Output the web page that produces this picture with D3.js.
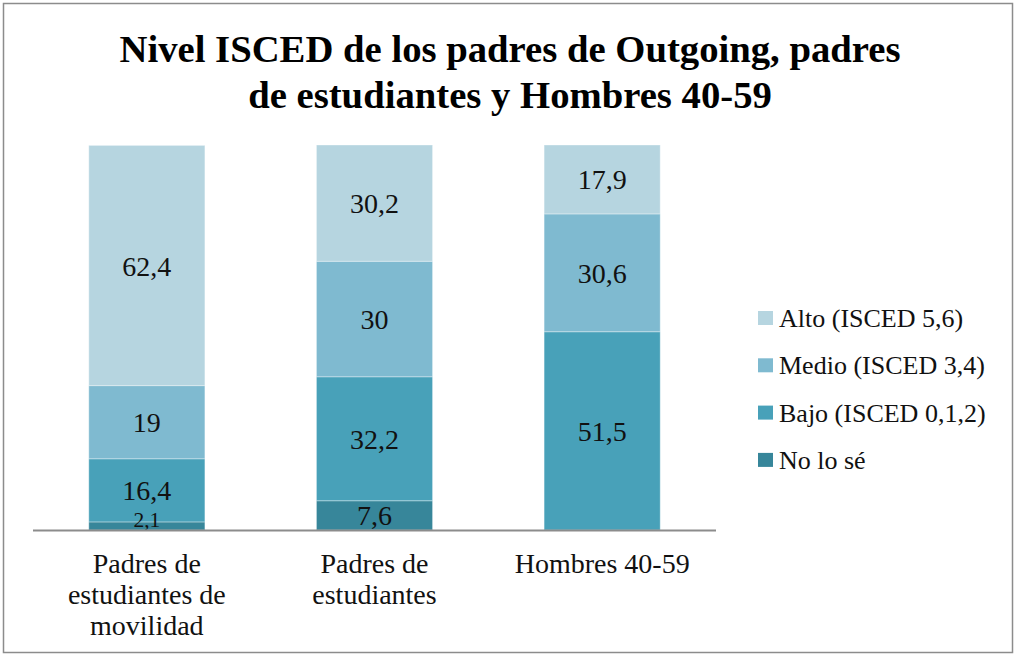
<!DOCTYPE html>
<html><head><meta charset="utf-8">
<script src="https://cdn.jsdelivr.net/npm/d3@7"></script>
<style>body{margin:0;background:#fff}svg{display:block}</style>
</head><body>
<svg id="c" width="1016" height="656"></svg>
<script>
const categories = [["Padres de","estudiantes de","movilidad"],["Padres de","estudiantes"],["Hombres 40-59"]];
const categoryKeys = ["Padres de estudiantes de movilidad","Padres de estudiantes","Hombres 40-59"];
const seriesNames = ["No lo sé","Bajo (ISCED 0,1,2)","Medio (ISCED 3,4)","Alto (ISCED 5,6)"];
const noLoSe = [2.1, 7.6, 0];
const bajo = [16.4, 32.2, 51.5];
const medio = [19, 30, 30.6];
const alto = [62.4, 30.2, 17.9];
const colors = ["#37869a","#48a1b9","#7fbad0","#b6d5e0"];

const svg = d3.select("#c");
const font = "'Liberation Serif', 'DejaVu Serif', serif";
svg.append("rect").attr("x",3.5).attr("y",3.5).attr("width",1009).attr("height",649)
  .attr("fill","#fff").attr("stroke","#8c8c8c").attr("stroke-width",1.5);

svg.append("text").attr("x",510).attr("y",62).attr("text-anchor","middle")
  .attr("font-family",font).attr("font-weight","bold").attr("font-size",38.7).text("Nivel ISCED de los padres de Outgoing, padres");
svg.append("text").attr("x",510).attr("y",108).attr("text-anchor","middle")
  .attr("font-family",font).attr("font-weight","bold").attr("font-size",38.7).text("de estudiantes y Hombres 40-59");

const xb = d3.scaleBand().domain(categoryKeys).range([33,716]).paddingInner(0.49).paddingOuter(0.245);
const y = d3.scaleLinear().domain([0,100]).range([530,145]);

const rows = categoryKeys.map((k,i)=>({key:k, s0:noLoSe[i], s1:bajo[i], s2:medio[i], s3:alto[i]}));
const stack = d3.stack().keys(["s0","s1","s2","s3"])(rows);

stack.forEach((layer,li)=>{
  const g = svg.append("g");
  layer.forEach((d,i)=>{
    const v = d[1]-d[0];
    if (v<=0) return;
    const x0 = xb(rows[i].key);
    g.append("rect").attr("x",x0).attr("y",y(d[1])).attr("width",xb.bandwidth())
      .attr("height",y(d[0])-y(d[1])).attr("fill",colors[li]).attr("stroke","#ffffff").attr("stroke-opacity",0.35).attr("stroke-width",1);
  });
});
stack.forEach((layer,li)=>{
  layer.forEach((d,i)=>{
    const v = d[1]-d[0];
    if (v<=0) return;
    const x0 = xb(rows[i].key);
    const small = (y(d[0])-y(d[1]))<20;
    svg.append("text").attr("x",x0+xb.bandwidth()/2).attr("y",(y(d[0])+y(d[1]))/2 + (small?1:10))
      .attr("text-anchor","middle").attr("font-family",font).attr("font-size",small?21.5:28)
      .attr("fill","#111").text(String(Math.round(v*10)/10).replace(".",","));
  });
});

svg.append("line").attr("x1",33).attr("x2",716).attr("y1",530.5).attr("y2",530.5)
  .attr("stroke","#8c8c8c").attr("stroke-width",2);

categoryKeys.forEach((k,i)=>{
  const t = svg.append("text").attr("text-anchor","middle").attr("font-family",font).attr("font-size",28).attr("fill","#111");
  categories[i].forEach((line,j)=>{
    t.append("tspan").attr("x",xb(k)+xb.bandwidth()/2).attr("y",573+j*31).text(line);
  });
});

const legendOrder = [3,2,1,0];
legendOrder.forEach((si,j)=>{
  const yy = 318 + j*47.3;
  svg.append("rect").attr("x",758).attr("y",yy-7).attr("width",15).attr("height",14).attr("fill",colors[si]);
  svg.append("text").attr("x",779).attr("y",yy+9).attr("font-family",font).attr("font-size",26).attr("fill","#111").text(seriesNames[si]);
});
</script>
</body></html>
